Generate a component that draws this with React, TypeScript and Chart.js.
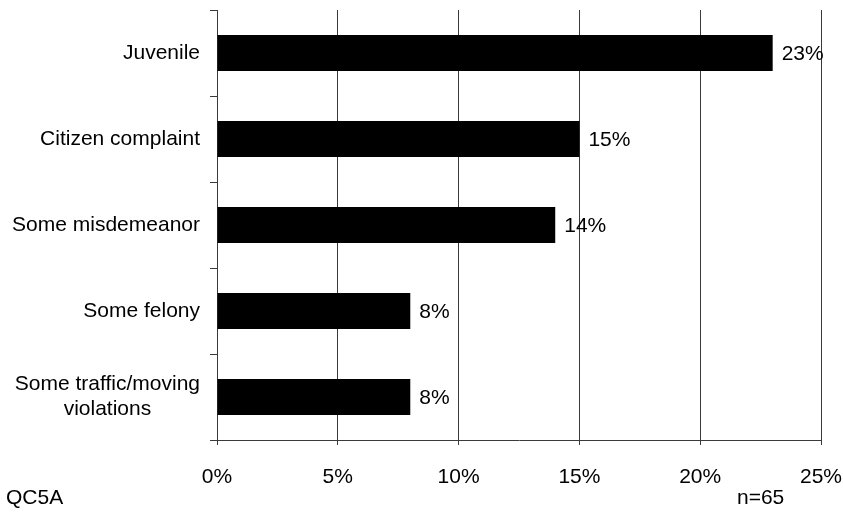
import React, { useEffect, useRef } from "react";
import { Chart, registerables } from "chart.js";

Chart.register(...registerables);

const categories: (string | string[])[] = [
  "Juvenile",
  "Citizen complaint",
  "Some misdemeanor",
  "Some felony",
  ["Some traffic/moving", "violations"],
];
const values = [23, 15, 14, 8, 8];
const xMin = 0;
const xMax = 25;
const xStep = 5;
const sourceNote = "QC5A";
const sampleNote = "n=65";

const FONT = '"Liberation Sans", Arial, sans-serif';
const LINE = "#3a3a3a";

export default function App() {
  const ref = useRef<HTMLCanvasElement | null>(null);

  useEffect(() => {
    if (!ref.current) return;

    const labelPlugin = {
      id: "customLabels",
      afterDatasetsDraw(chart: any) {
        const ctx = chart.ctx;
        const yScale = chart.scales.y;
        const xScale = chart.scales.x;
        ctx.save();
        ctx.fillStyle = "#000";
        ctx.font = `21px ${FONT}`;
        ctx.textBaseline = "middle";
        // category labels
        const rightEdge = yScale.right - 17;
        categories.forEach((cat, i) => {
          const lines = Array.isArray(cat) ? cat : [cat];
          const y = yScale.getPixelForTick(i);
          const maxW = Math.max(...lines.map((l) => ctx.measureText(l).width));
          const lh = 25;
          const startY = y - ((lines.length - 1) * lh) / 2;
          ctx.textAlign = lines.length > 1 ? "center" : "right";
          lines.forEach((l, j) => {
            const x = lines.length > 1 ? rightEdge - maxW / 2 : rightEdge;
            ctx.fillText(l, x, startY + j * lh);
          });
        });
        // x tick labels
        ctx.textAlign = "center";
        xScale.ticks.forEach((t: any) => {
          ctx.fillText(`${t.value}%`, xScale.getPixelForValue(t.value), xScale.top + 37);
        });
        // value labels
        ctx.textAlign = "left";
        const meta = chart.getDatasetMeta(0);
        meta.data.forEach((bar: any, i: number) => {
          ctx.fillText(`${values[i]}%`, bar.x + 9, bar.y + 1);
        });
        // footer notes
        ctx.fillText(sourceNote, 6, 498);
        ctx.fillText(sampleNote, 737, 498);
        ctx.restore();
      },
    };

    const chart = new Chart(ref.current, {
      type: "bar",
      data: {
        labels: categories as any,
        datasets: [
          {
            data: values,
            backgroundColor: "#000",
            borderWidth: 0,
            barPercentage: 0.42,
            categoryPercentage: 1,
          },
        ],
      },
      options: {
        indexAxis: "y",
        animation: false,
        responsive: true,
        maintainAspectRatio: false,
        layout: { padding: { top: 10, right: 22, left: 0, bottom: 0 } },
        plugins: {
          legend: { display: false },
          tooltip: { enabled: false },
        },
        scales: {
          x: {
            min: xMin,
            max: xMax,
            ticks: {
              stepSize: xStep,
              display: false,
            },
            grid: { color: LINE, lineWidth: 1, tickLength: 5 },
            border: { display: true, color: LINE, width: 1 },
            afterFit: (scale: any) => {
              scale.height = 73;
            },
          },
          y: {
            ticks: { display: false },
            grid: {
              drawOnChartArea: false,
              offset: true,
              color: LINE,
              tickLength: 7,
            },
            border: { display: true, color: LINE, width: 1 },
            afterFit: (scale: any) => {
              scale.width = 217;
            },
          },
        },
      },
      plugins: [labelPlugin],
    });

    return () => chart.destroy();
  }, []);

  return (
    <div
      style={{
        position: "fixed",
        left: 0,
        top: 0,
        width: 843,
        height: 513,
        background: "#fff",
      }}
    >
      <canvas ref={ref} />
    </div>
  );
}
